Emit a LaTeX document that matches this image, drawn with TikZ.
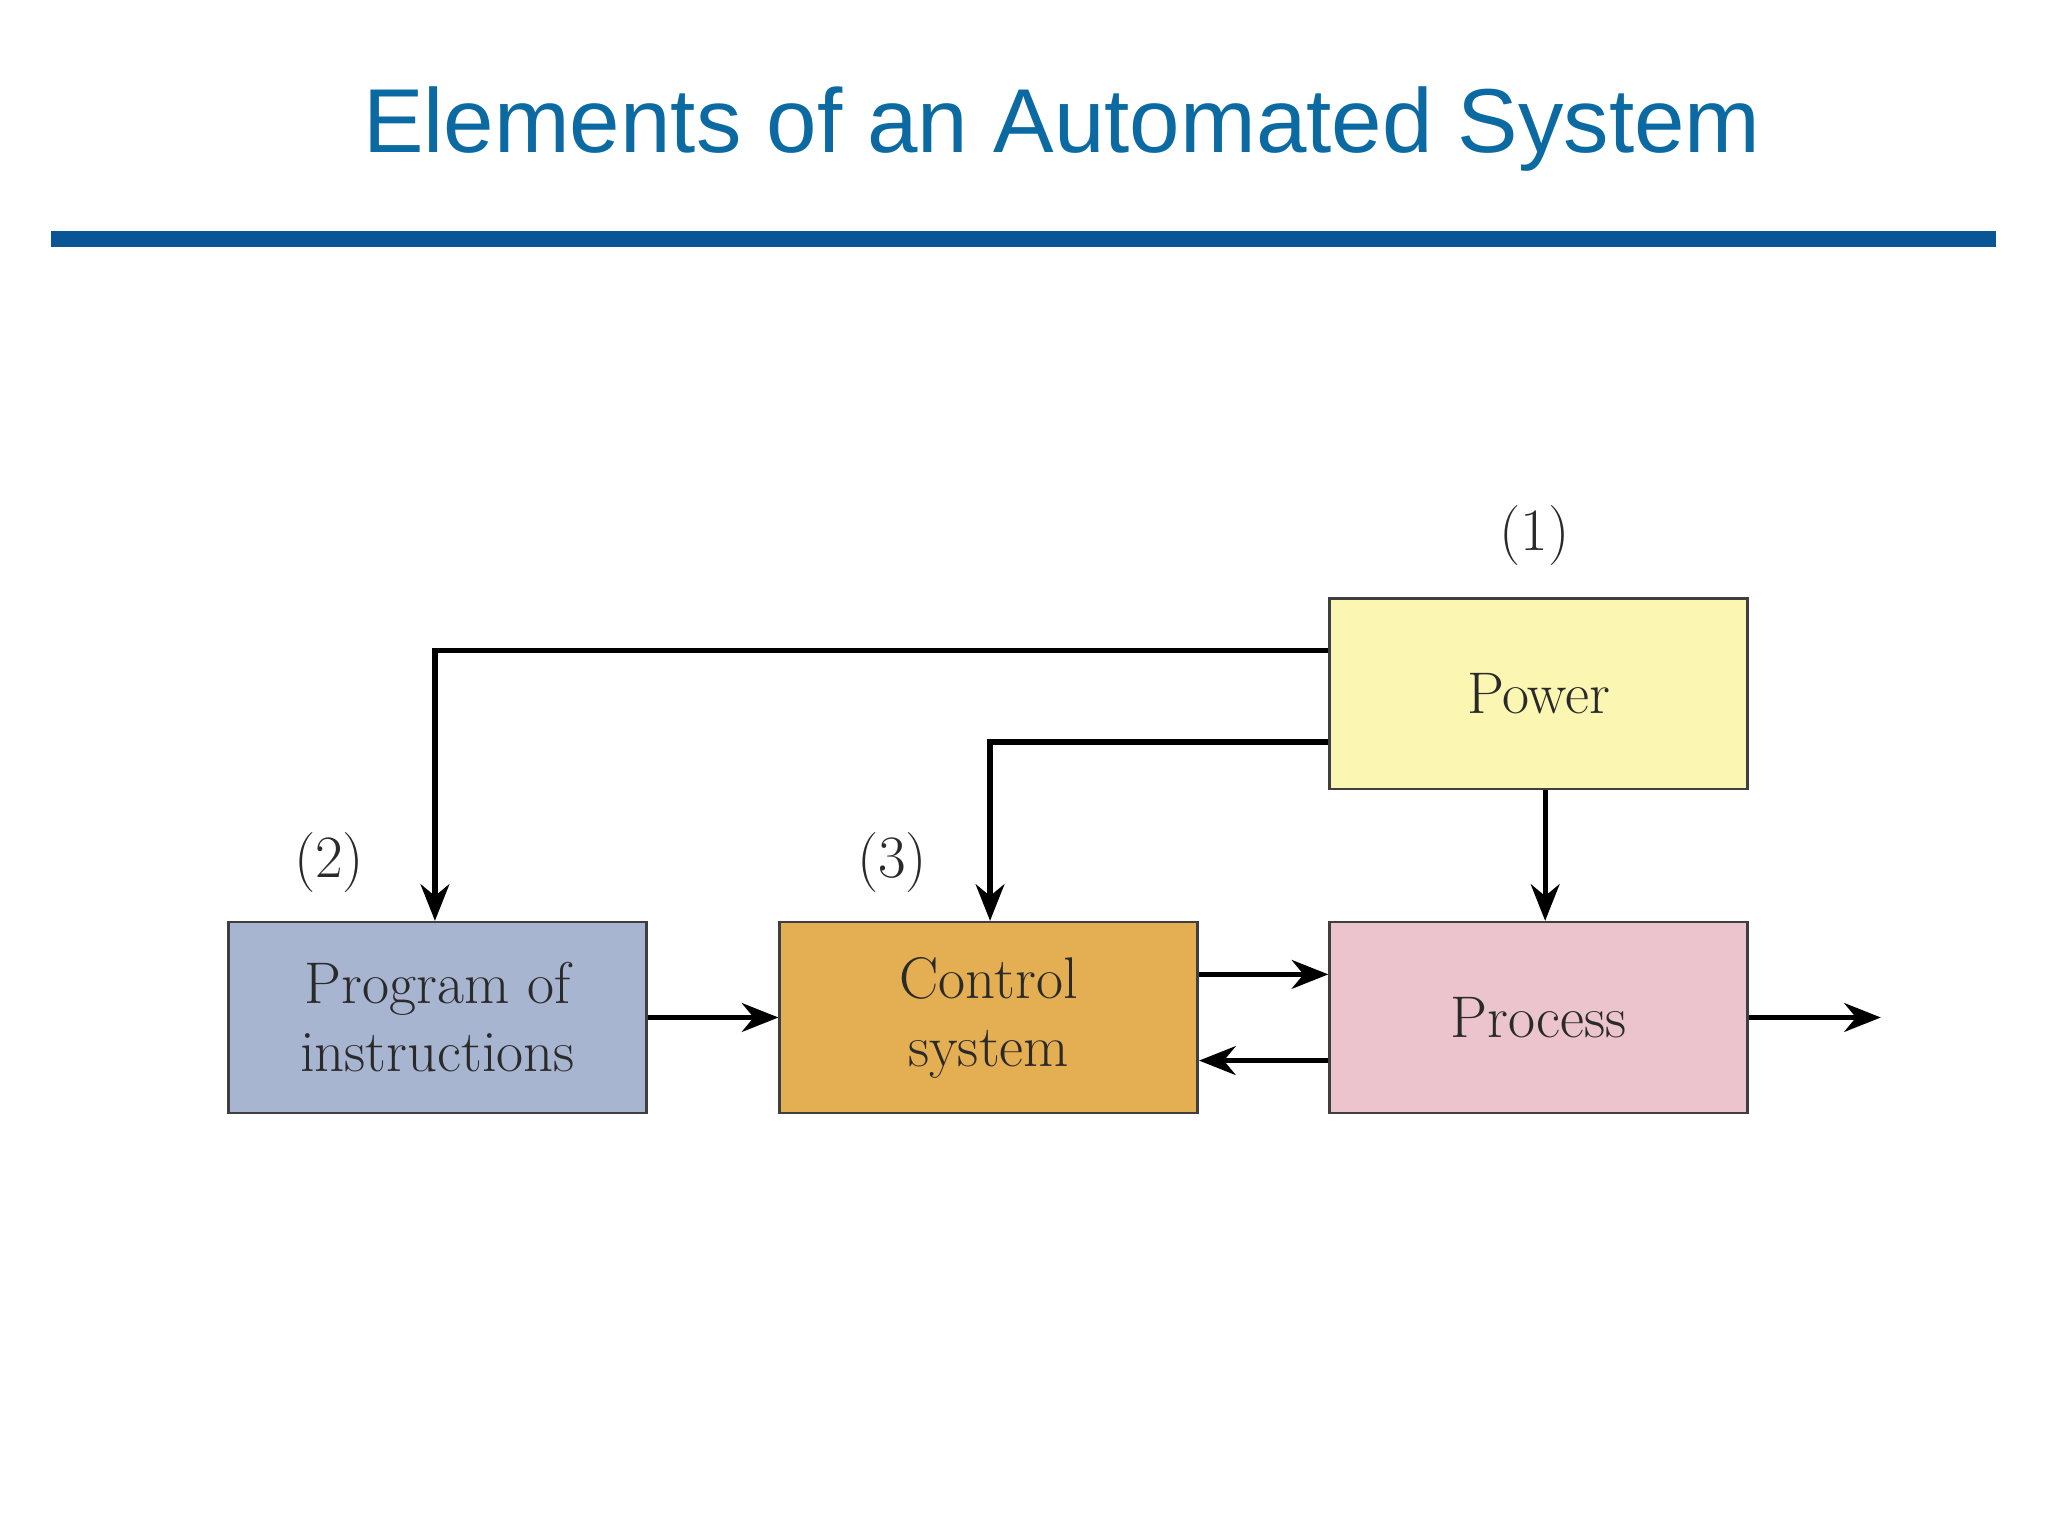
\documentclass[tikz,border=0pt]{standalone}
\usepackage{fontspec}
\newfontfamily\titlefont{Liberation Sans}
\usetikzlibrary{arrows.meta}
\definecolor{titleblue}{HTML}{0B6AA2}
\definecolor{ruleblue}{HTML}{0A5596}
\definecolor{powerc}{HTML}{FCF6B3}
\definecolor{progc}{HTML}{A8B5D0}
\definecolor{ctrlc}{HTML}{E4AE53}
\definecolor{procc}{HTML}{EBC4CD}
\definecolor{inkc}{HTML}{2A2A2A}
\tikzset{
  blockbox/.style={draw=inkc!90, line width=2pt, minimum width=320pt, minimum height=146pt,
    inner sep=0pt, align=center, font=\fontsize{45}{52}\selectfont, text=inkc},
  conn/.style={line width=4pt, -{Stealth[length=28pt,width=22pt,inset=9pt]}},
  numlabel/.style={font=\fontsize{46}{52}\selectfont, text=inkc}
}
\begin{document}
\begin{tikzpicture}[x=1pt,y=-1pt]
\useasboundingbox[fill=white] (0,0) rectangle (1568,1176);
\node[text=titleblue, font=\titlefont\fontsize{69.5}{80}\selectfont] (title) at (813,99) {Elements of an Automated System};
\fill[ruleblue] (39,177) rectangle (1528,189);
\node[blockbox, fill=powerc] (power) at (1178,531) {Power};
\node[blockbox, fill=progc] (prog) at (335,779) {Program of\\instructions};
\node[blockbox, fill=ctrlc] (ctrl) at (757,779) {Control\\system};
\node[blockbox, fill=procc] (proc) at (1178,779) {Process};
\node[numlabel] (n1) at (1175,410) {(1)};
\node[numlabel] (n2) at (252,660) {(2)};
\node[numlabel] (n3) at (683,660) {(3)};
\coordinate (out) at (1440,779);
\draw[conn] (power.west |- 0,498) -| (prog.north -| 333,0);
\draw[conn] (power.west |- 0,568) -| (ctrl.north -| 758,0);
\draw[conn] (power.south -| 1183,0) -- (proc.north -| 1183,0);
\draw[conn] (prog.east) -- (ctrl.west);
\draw[conn] (ctrl.east |- 0,746) -- (proc.west |- 0,746);
\draw[conn] (proc.west |- 0,812) -- (ctrl.east |- 0,812);
\draw[conn] (proc.east) -- (out);
\end{tikzpicture}
\end{document}
